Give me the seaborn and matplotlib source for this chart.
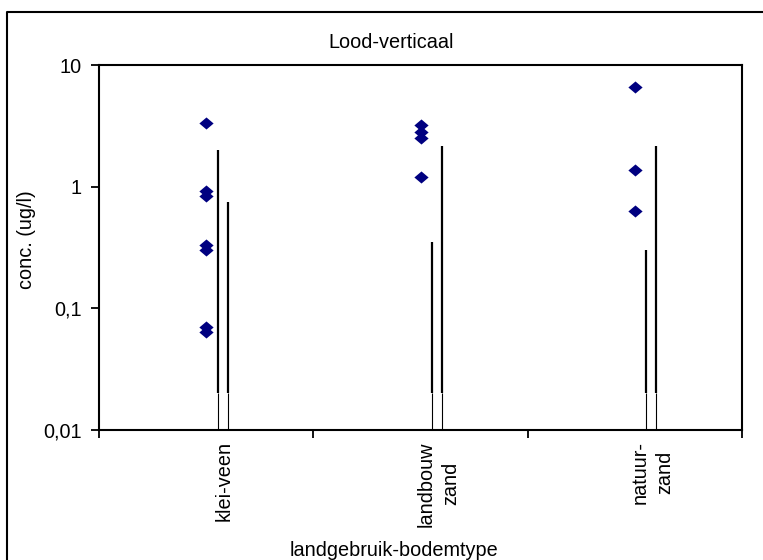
import numpy as np
import pandas as pd
import matplotlib
matplotlib.use("Agg")
import matplotlib.pyplot as plt
from matplotlib.lines import Line2D
from matplotlib.path import Path
from matplotlib.ticker import NullLocator
import seaborn as sns

# waarden
categories = ["klei-veen", "landbouw\nzand", "natuur-\nzand"]
klei_veen = [3.33, 0.92, 0.84, 0.33, 0.30, 0.070, 0.064]
landbouw_zand = [3.2, 2.8, 2.5, 1.2]
natuur_zand = [6.6, 1.37, 0.63]
line_left_top = [2.0, 0.35, 0.30]
line_right_top = [0.75, 2.15, 2.15]
line_base = 0.02
y_ticks = [0.01, 0.1, 1, 10]
y_ticklabels = ["0,01", "0,1", "1", "10"]

data = pd.DataFrame({
    "cat": [categories[0]] * len(klei_veen) + [categories[1]] * len(landbouw_zand)
           + [categories[2]] * len(natuur_zand),
    "conc": klei_veen + landbouw_zand + natuur_zand,
})

sns.set_style("ticks")
plt.rcParams["font.family"] = ["Liberation Sans", "DejaVu Sans"]
plt.rcParams["text.color"] = "black"
plt.rcParams["xtick.color"] = "black"
plt.rcParams["ytick.color"] = "black"
plt.rcParams["axes.labelcolor"] = "black"

fig = plt.figure(figsize=(7.63, 5.6), dpi=100)
ax = fig.add_axes([99 / 763, 1 - 430 / 560, 643 / 763, 365 / 560])

diamond = Path([(-1, 0), (0, 0.85), (1, 0), (0, -0.85), (-1, 0)],
               [Path.MOVETO, Path.LINETO, Path.LINETO, Path.LINETO, Path.CLOSEPOLY])
sns.scatterplot(data=data, x="cat", y="conc", ax=ax, marker=diamond, s=105,
                color="#000080", linewidth=0, zorder=3)

pos = np.arange(len(categories))
for off, tops in [(0.054, line_left_top), (0.100, line_right_top)]:
    ax.vlines(pos + off, line_base, tops, color="black", lw=1.6)
    ax.vlines(pos + off, 0.01, line_base, color="black", lw=0.8)

ax.set_yscale("log")
ax.set_ylim(0.01, 10)
ax.set_yticks(y_ticks)
ax.set_yticklabels(y_ticklabels)
ax.yaxis.set_minor_locator(NullLocator())
ax.set_xlim(-0.5, 2.5)
ax.set_xticks([-0.5, 0.5, 1.5, 2.5])
ax.set_xticklabels([])
ax.set_xticks(pos + 0.083, categories, minor=True)
ax.set_xlabel("")
ax.set_ylabel("")

ax.tick_params(which="major", length=6, width=1.3, labelsize=14.3, pad=6.5, color="black")
ax.tick_params(axis="x", which="minor", length=0, pad=8, labelsize=14.3)
for t in ax.get_xticklabels(minor=True):
    t.set_rotation(90)
    t.set_ha("center")
    t.set_va("top")
    t.set_multialignment("center")
    t.set_linespacing(1.35)

for s in ax.spines.values():
    s.set_visible(True)
    s.set_linewidth(1.5)
    s.set_color("black")

fig.text(391 / 763, 1 - 42 / 560, "Lood-verticaal", ha="center", va="center", fontsize=14.3)
fig.text(394 / 763, 1 - 550 / 560, "landgebruik-bodemtype", ha="center", va="center",
         fontsize=14.3)
fig.text(27 / 763, 1 - 240 / 560, "conc. (ug/l)", ha="center", va="center",
         rotation=90, fontsize=14.3)

# kader rond de grafiek
fig.add_artist(Line2D([7 / 763, 7 / 763, 1.01], [-0.01, 1 - 12 / 560, 1 - 12 / 560],
                      transform=fig.transFigure, color="black", lw=1.5))

fig.savefig("out.png", dpi=100)
